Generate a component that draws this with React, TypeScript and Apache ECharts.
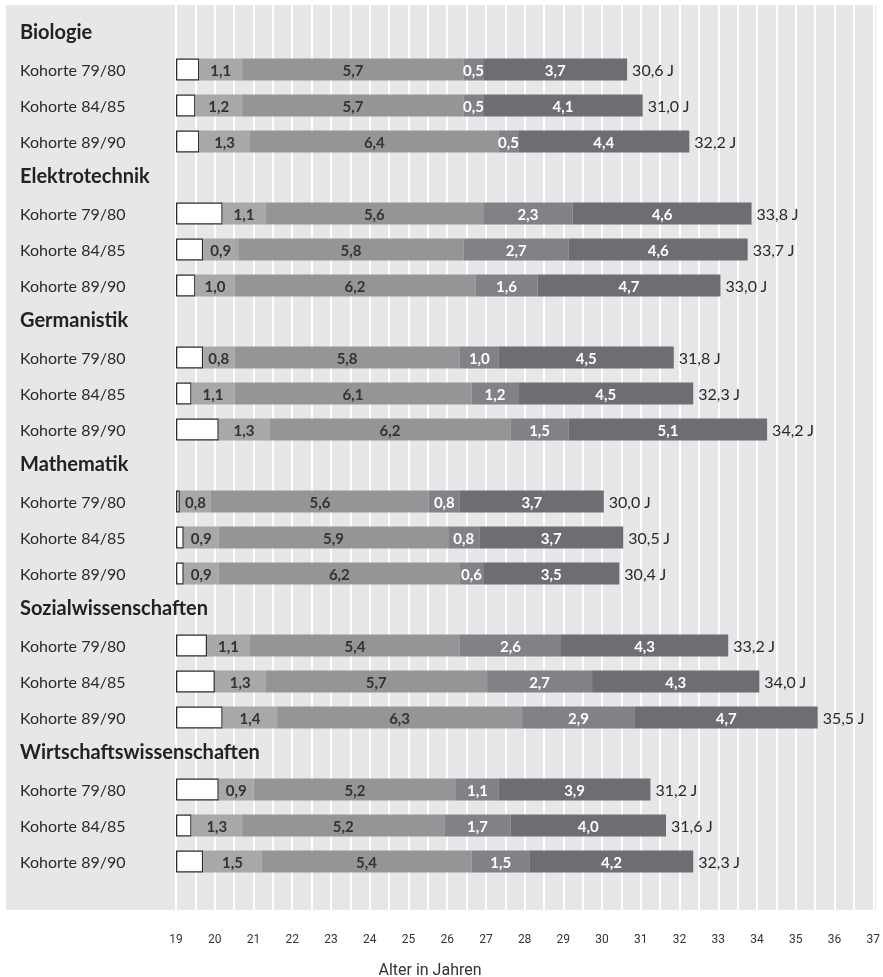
import React, { useEffect, useRef } from 'react';
import * as echarts from 'echarts';

const FONT = 'Lato, "Open Sans", "DejaVu Sans", sans-serif';
const TICK_FONT = 'Roboto, Lato, sans-serif';

const subjects = ['Biologie', 'Elektrotechnik', 'Germanistik', 'Mathematik', 'Sozialwissenschaften', 'Wirtschaftswissenschaften'];
const cohorts = ['Kohorte 79/80', 'Kohorte 84/85', 'Kohorte 89/90'];

// age at Abitur (start of the white box), per subject x cohort, row order
const abiturAge = [19.6, 19.5, 19.6, 20.2, 19.7, 19.5, 19.7, 19.4, 20.1, 19.1, 19.2, 19.2, 19.8, 20.0, 20.2, 20.1, 19.4, 19.7];
const toStudy = [1.1, 1.2, 1.3, 1.1, 0.9, 1.0, 0.8, 1.1, 1.3, 0.8, 0.9, 0.9, 1.1, 1.3, 1.4, 0.9, 1.3, 1.5];
const study = [5.7, 5.7, 6.4, 5.6, 5.8, 6.2, 5.8, 6.1, 6.2, 5.6, 5.9, 6.2, 5.4, 5.7, 6.3, 5.2, 5.2, 5.4];
const toPhd = [0.5, 0.5, 0.5, 2.3, 2.7, 1.6, 1.0, 1.2, 1.5, 0.8, 0.8, 0.6, 2.6, 2.7, 2.9, 1.1, 1.7, 1.5];
const phd = [3.7, 4.1, 4.4, 4.6, 4.6, 4.7, 4.5, 4.5, 5.1, 3.7, 3.7, 3.5, 4.3, 4.3, 4.7, 3.9, 4.0, 4.2];
const totalAge = [30.6, 31.0, 32.2, 33.8, 33.7, 33.0, 31.8, 32.3, 34.2, 30.0, 30.5, 30.4, 33.2, 34.0, 35.5, 31.2, 31.6, 32.3];

const xMin = 19;
const xMax = 37;
const axisName = 'Alter in Jahren';

const fmt = (v: number) => v.toFixed(1).replace('.', ',');

export default function App() {
  const ref = useRef<HTMLDivElement>(null);
  useEffect(() => {
    const chart = echarts.init(ref.current!, null, { renderer: 'svg' });

    const categories: string[] = [];
    const headerIdx = new Set<number>();
    const rowOf: (number | null)[] = [];
    let k = 0;
    subjects.forEach((s) => {
      headerIdx.add(categories.length);
      categories.push(s);
      rowOf.push(null);
      cohorts.forEach((c) => {
        categories.push(c);
        rowOf.push(k);
        k++;
      });
    });
    const build = (arr: number[] | null, fn?: (i: number) => number) =>
      rowOf.map((r) => (r === null ? '-' : fn ? fn(r) : (arr as number[])[r]));

    const segLabel = (color: string) => ({
      show: true,
      position: 'inside',
      color,
      fontFamily: FONT,
      fontWeight: 'bold',
      fontSize: 15,
      formatter: (p: any) => fmt(p.value),
    });

    const common = {
      type: 'bar',
      xAxisIndex: 1,
      yAxisIndex: 1,
      stack: 'a',
      barWidth: 22,
      silent: true,
    };

    const option: any = {
      animation: false,
      graphic: [
        {
          type: 'rect',
          z: -10,
          silent: true,
          shape: { x: 6, y: 5, width: 870, height: 905 },
          style: { fill: '#e6e7e8' },
        },
        {
          type: 'text',
          x: 430,
          y: 969,
          style: {
            text: axisName,
            fontSize: 16,
            fontFamily: TICK_FONT,
            fill: '#333',
            align: 'center',
            verticalAlign: 'middle',
          },
        },
      ],
      grid: [
        { left: 176, right: 7, top: 5, bottom: 67 },
        { left: 176, right: 7, top: 15.5, height: 864 },
      ],
      xAxis: [
        {
          gridIndex: 0,
          type: 'value',
          min: xMin,
          max: xMax,
          interval: 0.5,
          axisLine: { show: false },
          axisTick: { show: false },
          splitLine: { show: true, lineStyle: { color: '#ffffff', width: 2 } },
          axisLabel: {
            formatter: (v: number) => (Number.isInteger(v) ? String(v) : ''),
            margin: 23,
            fontSize: 12,
            fontFamily: TICK_FONT,
            color: '#333',
          },
        },
        { gridIndex: 1, type: 'value', min: xMin, max: xMax, show: false },
      ],
      yAxis: [
        { gridIndex: 0, type: 'value', show: false },
        {
          gridIndex: 1,
          type: 'category',
          inverse: true,
          data: categories,
          axisLine: { show: false },
          axisTick: { show: false },
          splitLine: { show: false },
          axisLabel: {
            align: 'left',
            margin: 156,
            formatter: (v: string, i: number) => (headerIdx.has(i) ? `{h|${v}}` : `{k|${v}}`),
            rich: {
              h: { fontFamily: FONT, fontWeight: 'bold', fontSize: 20, color: '#222', padding: [0, 0, 5, 0] },
              k: { fontFamily: FONT, fontSize: 16, color: '#2a2a2a' },
            },
          },
        },
      ],
      series: [
        {
          ...common,
          name: 'base',
          data: build(null, () => xMin),
          itemStyle: { color: 'rgba(0,0,0,0)' },
        },
        {
          ...common,
          name: 'Abitur',
          data: build(null, (r) => +(abiturAge[r] - xMin).toFixed(2)),
          itemStyle: { color: '#ffffff', borderColor: '#2b2b2b', borderWidth: 1.3 },
        },
        { ...common, name: 'toStudy', data: build(toStudy), itemStyle: { color: '#a7a8aa' }, label: segLabel('#333333') },
        { ...common, name: 'study', data: build(study), itemStyle: { color: '#949597' }, label: segLabel('#333333') },
        { ...common, name: 'toPhd', data: build(toPhd), itemStyle: { color: '#818285' }, label: segLabel('#ffffff') },
        { ...common, name: 'phd', data: build(phd), itemStyle: { color: '#6d6e71' }, label: segLabel('#ffffff') },
        {
          ...common,
          name: 'total',
          data: build(null, () => 0),
          itemStyle: { color: 'rgba(0,0,0,0)' },
          label: {
            show: true,
            position: 'right',
            distance: 5,
            color: '#2a2a2a',
            fontFamily: FONT,
            fontSize: 16,
            formatter: (p: any) => `${fmt(totalAge[rowOf[p.dataIndex] as number])} J`,
          },
        },
      ],
    };

    chart.setOption(option);
    return () => chart.dispose();
  }, []);
  return <div ref={ref} style={{ position: 'fixed', left: 0, top: 0, width: 883, height: 977 }} />;
}
